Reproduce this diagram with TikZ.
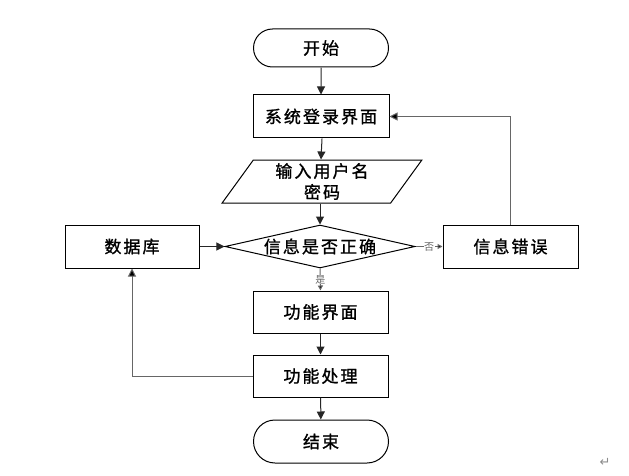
\documentclass[tikz,border=0pt]{standalone}
\usepackage{fontspec}
\newfontfamily\cjk{Noto Sans CJK SC}[LetterSpace=12,FakeBold=1.2]
\newfontfamily\cjksmall{Noto Sans CJK SC}
\newfontfamily\dejavu{DejaVu Sans}
\usetikzlibrary{shapes.geometric,shapes.misc,arrows.meta}
\begin{document}
\begin{tikzpicture}[x=1pt,y=-1pt,
  base/.style={draw=black,line width=1pt,inner sep=0pt,font=\cjk\fontsize{17}{21}\selectfont,text=black},
  procbox/.style={base,rectangle,minimum width=136pt,minimum height=43pt},
  termbox/.style={base,rounded rectangle,minimum width=135pt,minimum height=38pt},
  iobox/.style={base,trapezium,trapezium left angle=60,trapezium right angle=120,trapezium stretches=true,minimum width=200pt,minimum height=43pt,align=center},
  decbox/.style={base,diamond,aspect=4.42,minimum width=190pt,minimum height=43pt},
  conn/.style={line width=1pt,draw=black!85,-{Triangle[length=8pt,width=8pt]}},
  loopconn/.style={line width=1pt,draw=black!60,-{Triangle[length=8pt,width=8pt,fill=black]}},
  smallconn/.style={line width=1pt,draw=black!60,-{Triangle[length=5pt,width=5pt,fill=black]}},
  lbl/.style={font=\cjksmall\fontsize{10}{12}\selectfont,text=black!60,fill=white,inner sep=0.5pt}
]
\useasboundingbox (0,0) rectangle (629,476);
\node[termbox] (start) at (321,48) {开始};
\node[procbox] (login) at (321,116.5) {系统登录界面};
\node[iobox] (input) at (322,181.5) {输入用户名\\密码};
\node[decbox] (check) at (320,246.5) {信息是否正确};
\node[procbox,minimum width=134pt] (db) at (132,246.5) {数据库};
\node[procbox,minimum width=135pt] (err) at (510.5,246.5) {信息错误};
\node[procbox,minimum width=135pt,minimum height=42pt] (ui) at (320.5,312) {功能界面};
\node[procbox,minimum width=135pt,minimum height=42pt] (proc) at (320.5,376) {功能处理};
\node[termbox,minimum height=43pt] (end) at (321,441.5) {结束};
\node[font=\dejavu\fontsize{13}{15}\selectfont,text=black!45] (ret) at (605,462) {↵};

\draw[conn] (start) -- (login);
\draw[conn] (login.south -| input.north) -- (input.north -| login.south);
\draw[conn] (input.south -| check.north) -- (check.north);
\draw[conn] (db) -- (check);
\draw[smallconn] (check.east) -- node[lbl] {否} (err.west);
\draw[smallconn] (check.south) -- node[lbl,pos=0.5] {是} (ui.north);
\draw[conn] (ui) -- (proc);
\draw[conn] (proc) -- (end);
\draw[loopconn] (proc.west) -| (db.south);
\draw[loopconn] (err.north) |- (login.east);
\end{tikzpicture}
\end{document}
